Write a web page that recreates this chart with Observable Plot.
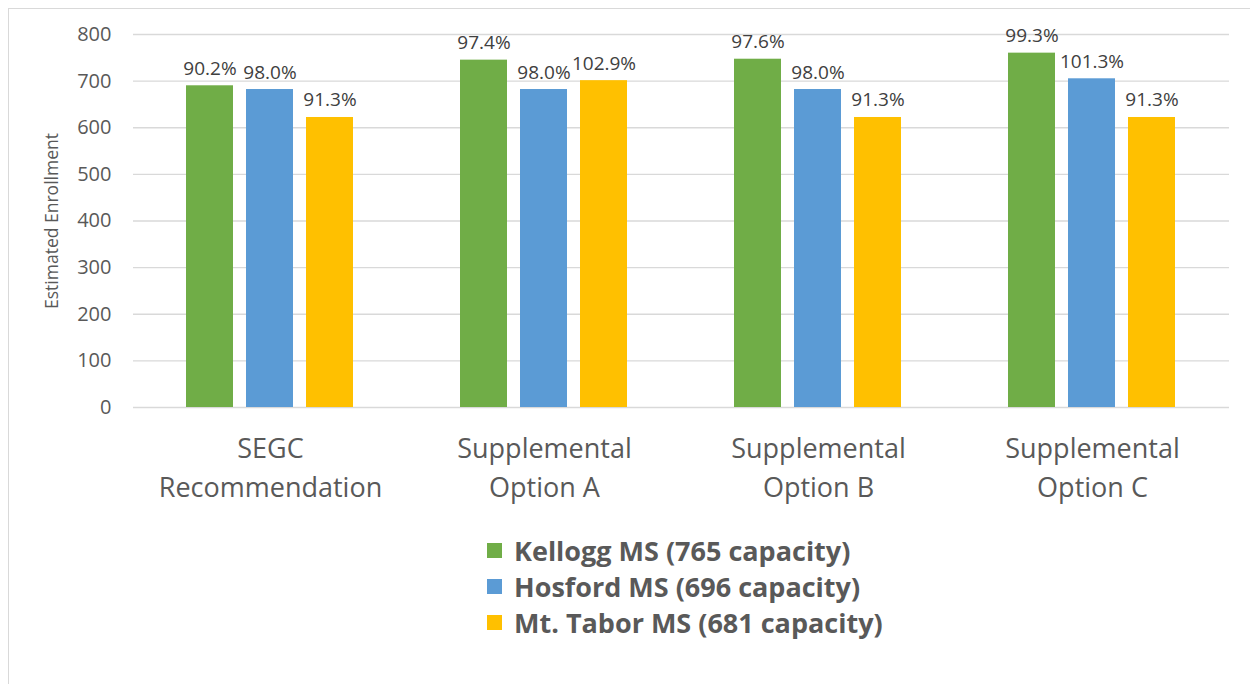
<!DOCTYPE html>
<html>
<head>
<meta charset="utf-8">
<script src="https://cdn.jsdelivr.net/npm/d3@7"></script>
<script src="https://cdn.jsdelivr.net/npm/@observablehq/plot@0.6"></script>
<style>
  html, body { margin: 0; padding: 0; background: #fff; }
  #frame { position: absolute; left: 8px; top: 8px; width: 1250px; height: 700px;
           border-left: 1px solid #d9d9d9; border-top: 1px solid #d9d9d9; box-sizing: border-box; }
  #chart { position: absolute; left: 0; top: 0; }
  #legend { position: absolute; left: 478px; top: 523px; font-family: "Open Sans", sans-serif;
            font-weight: bold; font-size: 27px; color: #595959; }
  .item { display: flex; align-items: center; height: 36px; }
  .sw { width: 15px; height: 15px; margin-right: 12px; }
</style>
</head>
<body>
<div id="frame"><div id="chart"></div><div id="legend"></div></div>
<script>
const groups = ["SEGC\nRecommendation", "Supplemental\nOption A", "Supplemental\nOption B", "Supplemental\nOption C"];
const schools = ["Kellogg MS (765 capacity)", "Hosford MS (696 capacity)", "Mt. Tabor MS (681 capacity)"];
const colors = ["#70ad47", "#5b9bd5", "#ffc000"];
const kellogg = [690, 745, 747, 760];
const hosford = [682, 682, 682, 705];
const tabor = [622, 701, 622, 622];
const kelloggPct = ["90.2%", "97.4%", "97.6%", "99.3%"];
const hosfordPct = ["98.0%", "98.0%", "98.0%", "101.3%"];
const taborPct = ["91.3%", "102.9%", "91.3%", "91.3%"];
const yTicks = [0, 100, 200, 300, 400, 500, 600, 700, 800];

const series = [kellogg, hosford, tabor];
const pcts = [kelloggPct, hosfordPct, taborPct];
const data = [];
groups.forEach((g, gi) => {
  schools.forEach((s, si) => {
    data.push({group: g, school: s, value: series[si][gi], label: pcts[si][gi]});
  });
});

const font = "'Open Sans', sans-serif";
const plot = Plot.plot({
  width: 1240,
  height: 520,
  marginLeft: 123,
  marginRight: 19,
  marginTop: 25,
  marginBottom: 122,
  style: {fontFamily: font, background: "transparent", overflow: "visible"},
  fx: {domain: groups, padding: 0},
  x: {domain: schools, paddingInner: 0.21, paddingOuter: 0.86, axis: null},
  y: {domain: [0, 800]},
  color: {domain: schools, range: colors},
  marks: [
    Plot.gridY(yTicks, {stroke: "#d9d9d9", strokeOpacity: 1, strokeWidth: 1.3}),
    Plot.axisY({ticks: yTicks, tickSize: 0, tickPadding: 22, fontSize: 20, fill: "#595959",
      label: "Estimated Enrollment", labelAnchor: "center", labelArrow: "none", labelOffset: 88}),
    Plot.axisFx({anchor: "bottom", tickSize: 0, tickPadding: 23, fontSize: 27, lineHeight: 1.44,
      fill: "#595959", label: null}),
    Plot.barY(data, {fx: "group", x: "school", y: "value", fill: "school"}),
    Plot.text(data, {fx: "group", x: "school", y: "value", text: "label", dy: -11,
      lineAnchor: "bottom", fontSize: 19, fill: "#404040"})
  ]
});
plot.querySelectorAll("g[aria-label='y-axis label'] text").forEach(t => {
  t.setAttribute("font-size", "17.5");
});
document.getElementById("chart").appendChild(plot);

const legend = document.getElementById("legend");
schools.forEach((s, i) => {
  const d = document.createElement("div");
  d.className = "item";
  d.innerHTML = `<span class="sw" style="background:${colors[i]}"></span><span>${s}</span>`;
  legend.appendChild(d);
});
</script>
</body>
</html>
